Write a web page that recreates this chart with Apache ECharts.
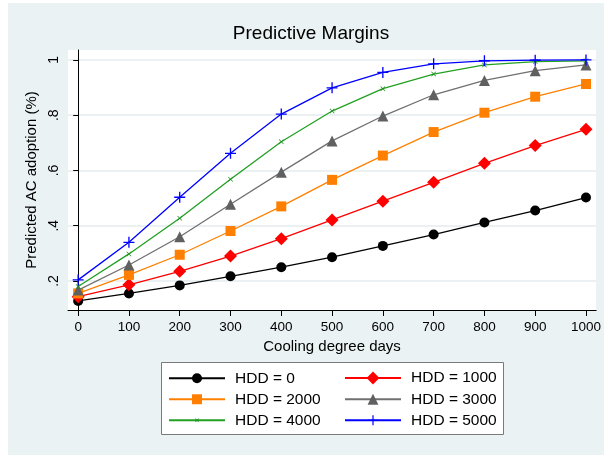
<!DOCTYPE html>
<html>
<head>
<meta charset="utf-8">
<script src="https://cdn.jsdelivr.net/npm/echarts@6/dist/echarts.min.js"></script>
<style>
html,body{margin:0;padding:0;background:#ffffff;}
#c{width:604px;height:455px;}
</style>
</head>
<body>
<div id="c"></div>
<script>
const categoriesCDD = [0, 100, 200, 300, 400, 500, 600, 700, 800, 900, 1000];
const xTicks = [0, 100, 200, 300, 400, 500, 600, 700, 800, 900, 1000];
const yTicks = [0.2, 0.4, 0.6, 0.8, 1];
const seriesNames = ['HDD = 0', 'HDD = 1000', 'HDD = 2000', 'HDD = 3000', 'HDD = 4000', 'HDD = 5000'];
const hdd0    = [0.128, 0.155, 0.184, 0.217, 0.250, 0.286, 0.327, 0.368, 0.412, 0.455, 0.502];
const hdd1000 = [0.143, 0.186, 0.235, 0.290, 0.353, 0.421, 0.489, 0.557, 0.626, 0.690, 0.749];
const hdd2000 = [0.155, 0.222, 0.295, 0.381, 0.470, 0.566, 0.654, 0.739, 0.809, 0.867, 0.913];
const hdd3000 = [0.167, 0.258, 0.360, 0.478, 0.594, 0.707, 0.797, 0.874, 0.926, 0.961, 0.982];
const hdd4000 = [0.180, 0.298, 0.427, 0.568, 0.704, 0.815, 0.896, 0.949, 0.982, 0.994, 0.997];
const hdd5000 = [0.204, 0.340, 0.503, 0.662, 0.804, 0.899, 0.955, 0.986, 0.997, 0.999, 1.000];

const FONT = '"Liberation Sans", Arial, sans-serif';
const values = [hdd0, hdd1000, hdd2000, hdd3000, hdd4000, hdd5000];
const styles = [
  {color: '#000000', symbol: 'circle', size: 10, legendH: 12.5},
  {color: '#ff0000', symbol: 'diamond', size: 13, legendH: 16},
  {color: '#ff8000', symbol: 'rect', size: 10, legendH: 12.5},
  {color: '#606060', lineColor: '#707070', symbol: 'triangle', size: 11, legendH: 13.5},
  {color: '#1a8f1a', lineColor: '#22a022', symbol: 'path://M0,1L1,0L5,4L9,0L10,1L6,5L10,9L9,10L5,6L1,10L0,9L4,5Z', size: 5, legendH: 5},
  {color: '#0000ff', symbol: 'path://M4.4,0H5.6V4.4H10V5.6H5.6V10H4.4V5.6H0V4.4H4.4Z', size: 11, legendH: 12.5}
];

const series = seriesNames.map((name, i) => ({
  name: name,
  type: 'line',
  data: categoriesCDD.map((x, j) => [x, values[i][j]]),
  symbol: styles[i].symbol,
  symbolSize: styles[i].size,
  showSymbol: true,
  animation: false,
  z: 2 + i,
  lineStyle: {color: styles[i].lineColor || styles[i].color, width: 1.3},
  itemStyle: {color: styles[i].color, borderWidth: 0}
}));

// legend: two columns, three rows
const legendCols = [168, 344];
const legendRows = [378, 399, 420];
const legends = seriesNames.map((name, i) => {
  const h = styles[i].legendH;
  return {
    data: [name],
    orient: 'vertical',
    left: legendCols[i % 2],
    top: legendRows[Math.floor(i / 2)] - Math.max(h, 15.5) / 2,
    padding: 0,
    itemWidth: 56, itemHeight: h, z: 5,
    textStyle: {fontFamily: FONT, fontSize: 15.5, lineHeight: 15.5, color: '#000', padding: [0, 0, 0, 5]}
  };
});

const chart = echarts.init(document.getElementById('c'), null, {renderer: 'canvas'});
chart.setOption({
  animation: false,
  backgroundColor: '#ffffff',
  graphic: [
    {type: 'rect', z: -10, shape: {x: 8, y: 3, width: 596, height: 452}, style: {fill: '#eaf2f3'}},
    {type: 'rect', z: 1, shape: {x: 161.5, y: 362.5, width: 342, height: 72}, style: {fill: '#ffffff', stroke: '#7a7a7a', lineWidth: 1}}
  ],
  title: {
    text: 'Predictive Margins',
    left: 311, top: 24.5, textAlign: 'center', padding: 0,
    textStyle: {fontFamily: FONT, fontSize: 19, fontWeight: 'normal', color: '#000'}
  },
  grid: {left: 68, right: 6, top: 50, bottom: 145, show: true, backgroundColor: '#ffffff', borderWidth: 0},
  xAxis: {
    type: 'value', min: -20, max: 1020,
    name: 'Cooling degree days', nameLocation: 'middle', nameGap: 28,
    nameTextStyle: {fontFamily: FONT, fontSize: 15, color: '#000'},
    axisLine: {show: true, lineStyle: {color: '#000', width: 1}},
    axisTick: {show: true, length: 6, customValues: xTicks, lineStyle: {color: '#000'}},
    axisLabel: {customValues: xTicks, margin: 10, fontFamily: FONT, fontSize: 13.5, color: '#000', formatter: v => String(v)},
    splitLine: {show: false}
  },
  yAxis: {
    type: 'value', min: 0.095, max: 1.036,
    name: 'Predicted AC adoption (%)', nameLocation: 'middle', nameGap: 28,
    nameTextStyle: {fontFamily: FONT, fontSize: 15, color: '#000'},
    axisLine: {show: true, lineStyle: {color: '#000', width: 1}},
    axisTick: {show: true, length: 5, customValues: yTicks, lineStyle: {color: '#000'}},
    axisLabel: {
      customValues: yTicks, rotate: 90, margin: 7, fontFamily: FONT, fontSize: 14, color: '#000',
      formatter: v => (v === 1 ? '1' : String(v).replace(/^0/, ''))
    },
    splitLine: {show: true, lineStyle: {color: '#e4ecee', width: 1.5}}
  },
  legend: legends,
  series: series
});
</script>
</body>
</html>
